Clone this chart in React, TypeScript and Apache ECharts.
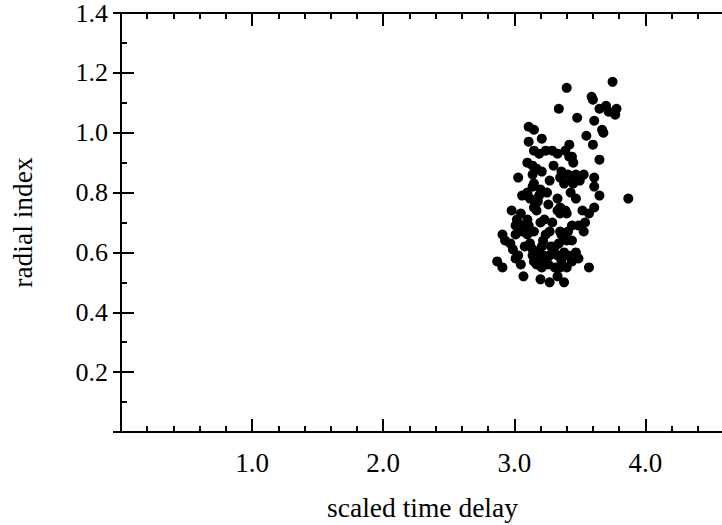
import React, { useEffect, useRef } from "react";
import * as echarts from "echarts";

const xTickLabels = ["1.0", "2.0", "3.0", "4.0"];
const yTickLabels = ["0.2", "0.4", "0.6", "0.8", "1.0", "1.2", "1.4"];

// scaled time delay
const delayValues: number[] = [
  3.40, 3.75, 3.59, 3.60, 3.34, 3.70, 3.65, 3.78, 3.77, 3.72,
  3.48, 3.61, 3.11, 3.15, 3.67, 3.68, 3.55, 3.60, 3.11, 3.21,
  3.42, 3.15, 3.19, 3.24, 3.29, 3.33, 3.39, 3.42, 3.44, 3.45,
  3.65, 3.10, 3.14, 3.17, 3.21, 3.30, 3.36, 3.41, 3.47, 3.53,
  3.61, 3.14, 3.03, 3.27, 3.15, 3.35, 3.38, 3.44, 3.50, 3.61,
  3.14, 3.10, 3.06, 3.20, 3.19, 3.43, 3.47, 3.65, 3.87, 3.33,
  3.35, 3.39, 3.40, 3.35, 3.52, 3.61, 3.57, 3.54, 3.49, 3.44,
  3.41, 3.35, 3.36, 3.44, 3.31, 3.34, 3.38, 3.41, 3.47, 3.49,
  3.44, 3.36, 3.35, 3.40, 3.57, 3.33, 3.38, 2.98, 3.16, 3.15,
  3.26, 3.33, 3.05, 3.02, 3.10, 3.01, 3.06, 3.11, 3.15, 3.27,
  2.91, 2.93, 2.97, 2.99, 3.03, 3.14, 3.16, 3.21, 3.22, 3.27,
  3.33, 3.15, 3.17, 3.21, 2.87, 2.91, 3.05, 3.07, 3.20, 3.27,
  3.17, 3.20, 3.10, 3.22, 3.40, 3.14, 3.19, 3.24, 3.26, 3.31,
  3.01, 3.45, 3.53, 3.01, 3.06, 3.23, 3.28, 3.12, 3.25, 3.29,
  3.08, 3.30, 3.24, 3.18, 3.12,
];

// radial index
const radialValues: number[] = [
  1.15, 1.17, 1.12, 1.11, 1.08, 1.09, 1.08, 1.08, 1.06, 1.07,
  1.05, 1.04, 1.02, 1.01, 1.01, 1.00, 0.99, 0.96, 0.97, 0.98,
  0.96, 0.94, 0.93, 0.94, 0.94, 0.93, 0.94, 0.92, 0.92, 0.90,
  0.91, 0.90, 0.89, 0.88, 0.87, 0.89, 0.87, 0.86, 0.86, 0.86,
  0.85, 0.86, 0.85, 0.84, 0.83, 0.85, 0.83, 0.84, 0.84, 0.82,
  0.82, 0.80, 0.79, 0.81, 0.79, 0.80, 0.78, 0.79, 0.78, 0.78,
  0.75, 0.74, 0.73, 0.73, 0.74, 0.75, 0.73, 0.70, 0.69, 0.69,
  0.67, 0.67, 0.66, 0.64, 0.62, 0.63, 0.60, 0.59, 0.60, 0.58,
  0.57, 0.57, 0.55, 0.55, 0.55, 0.52, 0.50, 0.74, 0.76, 0.75,
  0.76, 0.74, 0.73, 0.71, 0.71, 0.69, 0.69, 0.69, 0.67, 0.67,
  0.66, 0.64, 0.63, 0.61, 0.59, 0.61, 0.60, 0.62, 0.59, 0.59,
  0.59, 0.57, 0.56, 0.55, 0.57, 0.55, 0.56, 0.52, 0.51, 0.50,
  0.74, 0.70, 0.66, 0.64, 0.64, 0.59, 0.58, 0.57, 0.56, 0.55,
  0.58, 0.83, 0.67, 0.66, 0.67, 0.71, 0.62, 0.63, 0.80, 0.70,
  0.62, 0.61, 0.66, 0.77, 0.78,
];

const FONT = "Liberation Serif";

export default function App() {
  const ref = useRef<HTMLDivElement>(null);
  useEffect(() => {
    if (!ref.current) return;
    const chart = echarts.init(ref.current, undefined, { renderer: "svg" });
    const points = delayValues.map((x, i) => [x, radialValues[i]]);
    const isInt = (v: number) => Math.abs(v - Math.round(v)) < 1e-6;
    const xLabelFmt = (v: number) => {
      const s = v.toFixed(1);
      return xTickLabels.includes(s) && isInt(v) ? s : "";
    };
    const yLabelFmt = (v: number) => {
      const s = v.toFixed(1);
      return yTickLabels.includes(s) ? s : "";
    };
    const lineStyle = { color: "#000", width: 2 };
    const baseX = {
      type: "value" as const,
      min: 0,
      max: 4.6,
      splitLine: { show: false },
    };
    chart.setOption({
      animation: false,
      backgroundColor: "#fff",
      grid: {
        left: 121,
        top: 13,
        right: -2,
        bottom: 93,
        containLabel: false,
        outerBoundsMode: "none",
      },
      xAxis: [
        {
          ...baseX,
          position: "bottom",
          interval: 0.2,
          axisLine: { show: true, lineStyle },
          axisTick: { show: true, inside: true, length: 6, lineStyle: { color: "#000", width: 2 } },
          axisLabel: {
            show: true,
            formatter: xLabelFmt,
            showMinLabel: false,
            showMaxLabel: false,
            margin: 17,
            color: "#000",
            fontFamily: FONT,
            fontSize: 27,
            interval: 0,
          },
          name: "scaled time delay",
          nameLocation: "middle",
          nameGap: 62,
          nameTextStyle: { color: "#000", fontFamily: FONT, fontSize: 27.5, lineHeight: 26 },
        },
        {
          ...baseX,
          position: "bottom",
          interval: 1,
          axisLine: { show: false },
          axisTick: { show: true, inside: true, length: 13, lineStyle: { color: "#000", width: 2 } },
          axisLabel: { show: false },
        },
        {
          ...baseX,
          position: "top",
          interval: 0.2,
          axisLine: { show: true, lineStyle },
          axisTick: { show: true, inside: true, length: 6, lineStyle: { color: "#000", width: 2 } },
          axisLabel: { show: false },
        },
        {
          ...baseX,
          position: "top",
          interval: 1,
          axisLine: { show: false },
          axisTick: { show: true, inside: true, length: 13, lineStyle: { color: "#000", width: 2 } },
          axisLabel: { show: false },
        },
      ],
      yAxis: [
        {
          type: "value",
          min: 0,
          max: 1.4,
          interval: 0.2,
          position: "left",
          splitLine: { show: false },
          axisLine: { show: true, lineStyle },
          axisTick: { show: true, inside: true, length: 13, lineStyle: { color: "#000", width: 2 } },
          minorTick: { show: true, splitNumber: 2, length: 6, lineStyle: { color: "#000", width: 2 } },
          minorSplitLine: { show: false },
          axisLabel: {
            formatter: yLabelFmt,
            showMinLabel: false,
            margin: 13,
            color: "#000",
            fontFamily: FONT,
            fontSize: 26,
            lineHeight: 20,
          },
          name: "radial index",
          nameLocation: "middle",
          nameGap: 85,
          nameRotate: 90,
          nameTextStyle: { color: "#000", fontFamily: FONT, fontSize: 27.5 },
        },
        {
          type: "value",
          min: 0,
          max: 1.4,
          interval: 0.2,
          position: "right",
          splitLine: { show: false },
          axisLine: { show: true, lineStyle },
          axisTick: { show: true, inside: true, length: 8, lineStyle: { color: "#000", width: 2 } },
          axisLabel: { show: false },
        },
      ],
      series: [
        {
          type: "scatter",
          xAxisIndex: 0,
          yAxisIndex: 0,
          data: points,
          symbol: "circle",
          symbolSize: 10,
          itemStyle: { color: "#000", opacity: 1 },
        },
      ],
    });
    return () => chart.dispose();
  }, []);
  return (
    <div
      ref={ref}
      style={{ position: "fixed", left: 0, top: 0, width: 722, height: 525, background: "#fff" }}
    />
  );
}
